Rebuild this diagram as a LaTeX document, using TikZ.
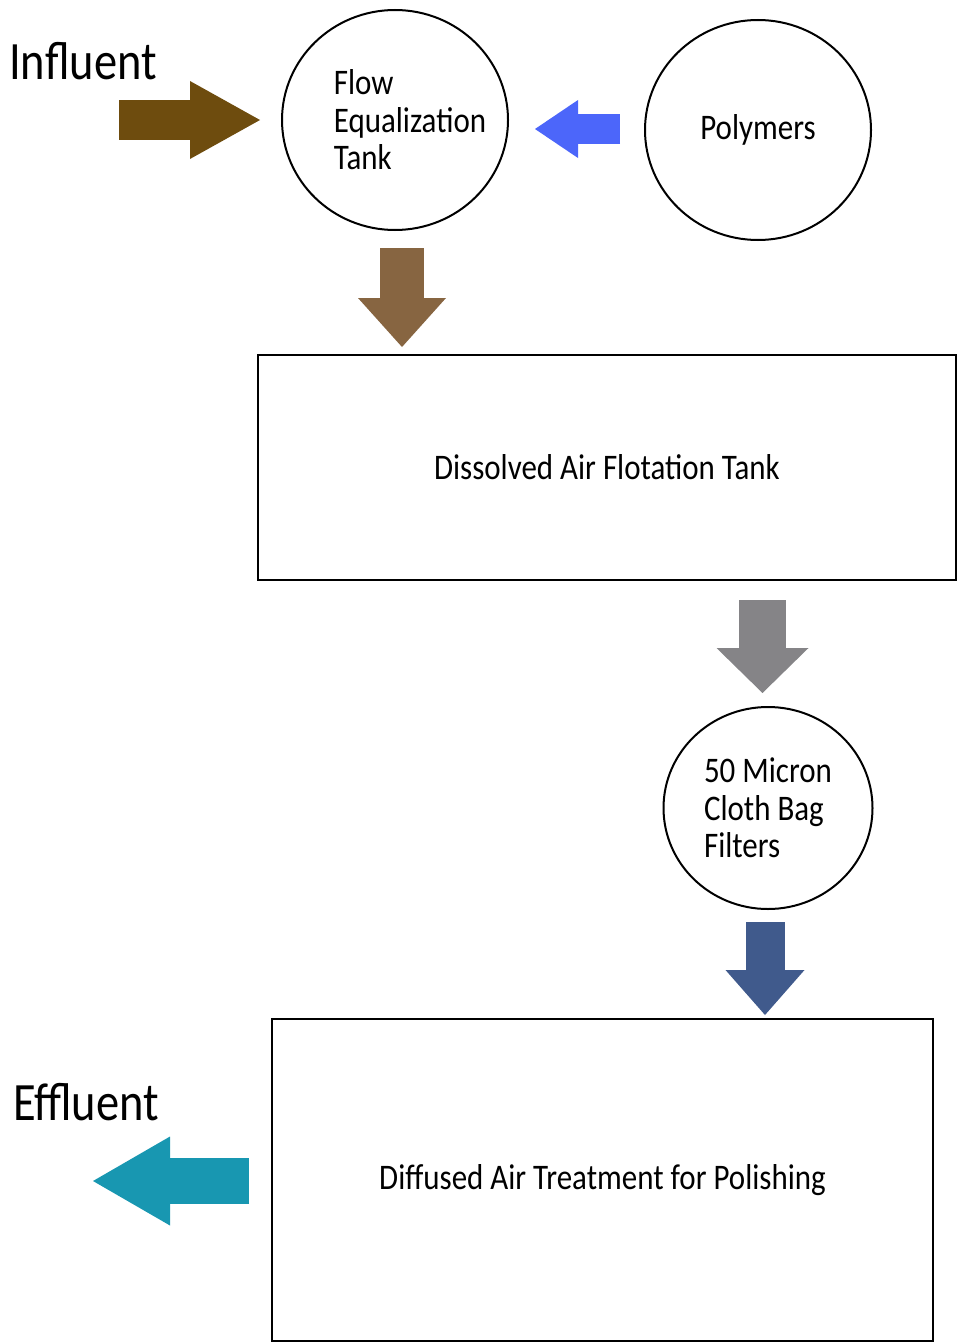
\documentclass[tikz,border=0pt]{standalone}
\usepackage{fontspec}
\setmainfont{Carlito}[FakeStretch=0.86]
\usetikzlibrary{shapes.geometric,arrows.meta}
\definecolor{influentc}{RGB}{110,76,14}
\definecolor{polymerc}{RGB}{76,102,250}
\definecolor{eqc}{RGB}{135,101,65}
\definecolor{dafc}{RGB}{133,132,135}
\definecolor{bagc}{RGB}{64,90,140}
\definecolor{effluentc}{RGB}{24,151,177}

\begin{document}
\begin{tikzpicture}[x=0.5pt, y=-0.5pt,
  every node/.style={font=\fontsize{18}{18.75}\selectfont},
  tank/.style={ellipse, draw, line width=1pt, inner sep=0pt},
  basin/.style={rectangle, draw, line width=1pt},
  flow/.style n args={3}{line width=#1, -{Triangle[length=#2, width=#3, line width=0pt]}}]
\useasboundingbox (0,0) rectangle (959,1343);
\node[tank, minimum width=113pt, minimum height=110pt, label={[align=left, xshift=7.5pt]center:Flow\\Equalization\\Tank}] (eq) at (395,120) {};
\node[tank, minimum width=113pt, minimum height=110pt] (poly) at (758,130) {Polymers};
\node[basin, minimum width=349pt, minimum height=112.5pt] (daf) at (607,467.5) {Dissolved Air Flotation Tank};
\node[tank, minimum width=104.5pt, minimum height=101pt, align=left] (bag) at (768,808) {50 Micron\\Cloth Bag\\Filters};
\node[basin, minimum width=330.5pt, minimum height=161pt] (dat) at (602.5,1180) {Diffused Air Treatment for Polishing};
\node[font=\fontsize{27}{30}\selectfont, anchor=base] (influent) at (83,80) {Influent};
\node[font=\fontsize{27}{30}\selectfont, anchor=base] (effluent) at (86,1120) {Effluent};
\coordinate (in0) at (119,120); \coordinate (in1) at (260,120);
\coordinate (po0) at (620,129); \coordinate (po1) at (535,129);
\coordinate (eq0) at (402,248); \coordinate (eq1) at (402,347);
\coordinate (da0) at (762.5,600); \coordinate (da1) at (762.5,693);
\coordinate (ba0) at (765,922); \coordinate (ba1) at (765,1015);
\coordinate (ef0) at (249,1181); \coordinate (ef1) at (93,1181);
\draw[flow={20pt}{35pt}{39pt}, influentc] (in0) -- (in1);
\draw[flow={15pt}{21.5pt}{29pt}, polymerc] (po0) -- (po1);
\draw[flow={22pt}{24.5pt}{44pt}, eqc] (eq0) -- (eq1);
\draw[flow={23.5pt}{22.5pt}{46pt}, dafc] (da0) -- (da1);
\draw[flow={19.5pt}{22.5pt}{39.5pt}, bagc] (ba0) -- (ba1);
\draw[flow={23pt}{38.5pt}{44.5pt}, effluentc] (ef0) -- (ef1);
\end{tikzpicture}
\end{document}
